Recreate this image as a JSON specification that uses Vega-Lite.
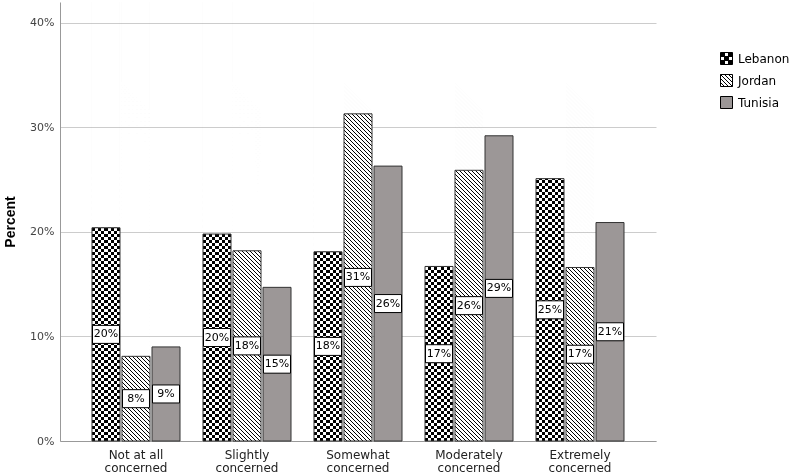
{
  "$schema": "https://vega.github.io/schema/vega-lite/v6.json",
  "width": 596,
  "height": 439,
  "autosize": {"type": "none"},
  "padding": {"left": 60, "top": 2, "right": 134, "bottom": 34},
  "background": "white",
  "params": [
    {"name": "hgrad", "value": {"gradient": "linear", "x1": 0, "y1": 1, "x2": 0, "y2": 0.316629, "stops": [
        {"offset":0,"color":"#000"},{"offset":0.01,"color":"#000"},{"offset":0.01,"color":"#fff"},{"offset":0.02,"color":"#fff"},
        {"offset":0.02,"color":"#000"},{"offset":0.03,"color":"#000"},{"offset":0.03,"color":"#fff"},{"offset":0.04,"color":"#fff"},
        {"offset":0.04,"color":"#000"},{"offset":0.05,"color":"#000"},{"offset":0.05,"color":"#fff"},{"offset":0.06,"color":"#fff"},
        {"offset":0.06,"color":"#000"},{"offset":0.07,"color":"#000"},{"offset":0.07,"color":"#fff"},{"offset":0.08,"color":"#fff"},
        {"offset":0.08,"color":"#000"},{"offset":0.09,"color":"#000"},{"offset":0.09,"color":"#fff"},{"offset":0.1,"color":"#fff"},
        {"offset":0.1,"color":"#000"},{"offset":0.11,"color":"#000"},{"offset":0.11,"color":"#fff"},{"offset":0.12,"color":"#fff"},
        {"offset":0.12,"color":"#000"},{"offset":0.13,"color":"#000"},{"offset":0.13,"color":"#fff"},{"offset":0.14,"color":"#fff"},
        {"offset":0.14,"color":"#000"},{"offset":0.15,"color":"#000"},{"offset":0.15,"color":"#fff"},{"offset":0.16,"color":"#fff"},
        {"offset":0.16,"color":"#000"},{"offset":0.17,"color":"#000"},{"offset":0.17,"color":"#fff"},{"offset":0.18,"color":"#fff"},
        {"offset":0.18,"color":"#000"},{"offset":0.19,"color":"#000"},{"offset":0.19,"color":"#fff"},{"offset":0.2,"color":"#fff"},
        {"offset":0.2,"color":"#000"},{"offset":0.21,"color":"#000"},{"offset":0.21,"color":"#fff"},{"offset":0.22,"color":"#fff"},
        {"offset":0.22,"color":"#000"},{"offset":0.23,"color":"#000"},{"offset":0.23,"color":"#fff"},{"offset":0.24,"color":"#fff"},
        {"offset":0.24,"color":"#000"},{"offset":0.25,"color":"#000"},{"offset":0.25,"color":"#fff"},{"offset":0.26,"color":"#fff"},
        {"offset":0.26,"color":"#000"},{"offset":0.27,"color":"#000"},{"offset":0.27,"color":"#fff"},{"offset":0.28,"color":"#fff"},
        {"offset":0.28,"color":"#000"},{"offset":0.29,"color":"#000"},{"offset":0.29,"color":"#fff"},{"offset":0.3,"color":"#fff"},
        {"offset":0.3,"color":"#000"},{"offset":0.31,"color":"#000"},{"offset":0.31,"color":"#fff"},{"offset":0.32,"color":"#fff"},
        {"offset":0.32,"color":"#000"},{"offset":0.33,"color":"#000"},{"offset":0.33,"color":"#fff"},{"offset":0.34,"color":"#fff"},
        {"offset":0.34,"color":"#000"},{"offset":0.35,"color":"#000"},{"offset":0.35,"color":"#fff"},{"offset":0.36,"color":"#fff"},
        {"offset":0.36,"color":"#000"},{"offset":0.37,"color":"#000"},{"offset":0.37,"color":"#fff"},{"offset":0.38,"color":"#fff"},
        {"offset":0.38,"color":"#000"},{"offset":0.39,"color":"#000"},{"offset":0.39,"color":"#fff"},{"offset":0.4,"color":"#fff"},
        {"offset":0.4,"color":"#000"},{"offset":0.41,"color":"#000"},{"offset":0.41,"color":"#fff"},{"offset":0.42,"color":"#fff"},
        {"offset":0.42,"color":"#000"},{"offset":0.43,"color":"#000"},{"offset":0.43,"color":"#fff"},{"offset":0.44,"color":"#fff"},
        {"offset":0.44,"color":"#000"},{"offset":0.45,"color":"#000"},{"offset":0.45,"color":"#fff"},{"offset":0.46,"color":"#fff"},
        {"offset":0.46,"color":"#000"},{"offset":0.47,"color":"#000"},{"offset":0.47,"color":"#fff"},{"offset":0.48,"color":"#fff"},
        {"offset":0.48,"color":"#000"},{"offset":0.49,"color":"#000"},{"offset":0.49,"color":"#fff"},{"offset":0.5,"color":"#fff"},
        {"offset":0.5,"color":"#000"},{"offset":0.51,"color":"#000"},{"offset":0.51,"color":"#fff"},{"offset":0.52,"color":"#fff"},
        {"offset":0.52,"color":"#000"},{"offset":0.53,"color":"#000"},{"offset":0.53,"color":"#fff"},{"offset":0.54,"color":"#fff"},
        {"offset":0.54,"color":"#000"},{"offset":0.55,"color":"#000"},{"offset":0.55,"color":"#fff"},{"offset":0.56,"color":"#fff"},
        {"offset":0.56,"color":"#000"},{"offset":0.57,"color":"#000"},{"offset":0.57,"color":"#fff"},{"offset":0.58,"color":"#fff"},
        {"offset":0.58,"color":"#000"},{"offset":0.59,"color":"#000"},{"offset":0.59,"color":"#fff"},{"offset":0.6,"color":"#fff"},
        {"offset":0.6,"color":"#000"},{"offset":0.61,"color":"#000"},{"offset":0.61,"color":"#fff"},{"offset":0.62,"color":"#fff"},
        {"offset":0.62,"color":"#000"},{"offset":0.63,"color":"#000"},{"offset":0.63,"color":"#fff"},{"offset":0.64,"color":"#fff"},
        {"offset":0.64,"color":"#000"},{"offset":0.65,"color":"#000"},{"offset":0.65,"color":"#fff"},{"offset":0.66,"color":"#fff"},
        {"offset":0.66,"color":"#000"},{"offset":0.67,"color":"#000"},{"offset":0.67,"color":"#fff"},{"offset":0.68,"color":"#fff"},
        {"offset":0.68,"color":"#000"},{"offset":0.69,"color":"#000"},{"offset":0.69,"color":"#fff"},{"offset":0.7,"color":"#fff"},
        {"offset":0.7,"color":"#000"},{"offset":0.71,"color":"#000"},{"offset":0.71,"color":"#fff"},{"offset":0.72,"color":"#fff"},
        {"offset":0.72,"color":"#000"},{"offset":0.73,"color":"#000"},{"offset":0.73,"color":"#fff"},{"offset":0.74,"color":"#fff"},
        {"offset":0.74,"color":"#000"},{"offset":0.75,"color":"#000"},{"offset":0.75,"color":"#fff"},{"offset":0.76,"color":"#fff"},
        {"offset":0.76,"color":"#000"},{"offset":0.77,"color":"#000"},{"offset":0.77,"color":"#fff"},{"offset":0.78,"color":"#fff"},
        {"offset":0.78,"color":"#000"},{"offset":0.79,"color":"#000"},{"offset":0.79,"color":"#fff"},{"offset":0.8,"color":"#fff"},
        {"offset":0.8,"color":"#000"},{"offset":0.81,"color":"#000"},{"offset":0.81,"color":"#fff"},{"offset":0.82,"color":"#fff"},
        {"offset":0.82,"color":"#000"},{"offset":0.83,"color":"#000"},{"offset":0.83,"color":"#fff"},{"offset":0.84,"color":"#fff"},
        {"offset":0.84,"color":"#000"},{"offset":0.85,"color":"#000"},{"offset":0.85,"color":"#fff"},{"offset":0.86,"color":"#fff"},
        {"offset":0.86,"color":"#000"},{"offset":0.87,"color":"#000"},{"offset":0.87,"color":"#fff"},{"offset":0.88,"color":"#fff"},
        {"offset":0.88,"color":"#000"},{"offset":0.89,"color":"#000"},{"offset":0.89,"color":"#fff"},{"offset":0.9,"color":"#fff"}]}},
    {"name": "dgrad", "value": {"gradient": "linear", "x1": 0, "y1": 1, "x2": 0.057879, "y2": 0.092537, "stops": [
        {"offset":0,"color":"#000"},{"offset":0.005,"color":"#000"},{"offset":0.0075,"color":"#fff"},
        {"offset":0.01,"color":"#000"},{"offset":0.015,"color":"#000"},{"offset":0.0175,"color":"#fff"},
        {"offset":0.02,"color":"#000"},{"offset":0.025,"color":"#000"},{"offset":0.0275,"color":"#fff"},
        {"offset":0.03,"color":"#000"},{"offset":0.035,"color":"#000"},{"offset":0.0375,"color":"#fff"},
        {"offset":0.04,"color":"#000"},{"offset":0.045,"color":"#000"},{"offset":0.0475,"color":"#fff"},
        {"offset":0.05,"color":"#000"},{"offset":0.055,"color":"#000"},{"offset":0.0575,"color":"#fff"},
        {"offset":0.06,"color":"#000"},{"offset":0.065,"color":"#000"},{"offset":0.0675,"color":"#fff"},
        {"offset":0.07,"color":"#000"},{"offset":0.075,"color":"#000"},{"offset":0.0775,"color":"#fff"},
        {"offset":0.08,"color":"#000"},{"offset":0.085,"color":"#000"},{"offset":0.0875,"color":"#fff"},
        {"offset":0.09,"color":"#000"},{"offset":0.095,"color":"#000"},{"offset":0.0975,"color":"#fff"},
        {"offset":0.1,"color":"#000"},{"offset":0.105,"color":"#000"},{"offset":0.1075,"color":"#fff"},
        {"offset":0.11,"color":"#000"},{"offset":0.115,"color":"#000"},{"offset":0.1175,"color":"#fff"},
        {"offset":0.12,"color":"#000"},{"offset":0.125,"color":"#000"},{"offset":0.1275,"color":"#fff"},
        {"offset":0.13,"color":"#000"},{"offset":0.135,"color":"#000"},{"offset":0.1375,"color":"#fff"},
        {"offset":0.14,"color":"#000"},{"offset":0.145,"color":"#000"},{"offset":0.1475,"color":"#fff"},
        {"offset":0.15,"color":"#000"},{"offset":0.155,"color":"#000"},{"offset":0.1575,"color":"#fff"},
        {"offset":0.16,"color":"#000"},{"offset":0.165,"color":"#000"},{"offset":0.1675,"color":"#fff"},
        {"offset":0.17,"color":"#000"},{"offset":0.175,"color":"#000"},{"offset":0.1775,"color":"#fff"},
        {"offset":0.18,"color":"#000"},{"offset":0.185,"color":"#000"},{"offset":0.1875,"color":"#fff"},
        {"offset":0.19,"color":"#000"},{"offset":0.195,"color":"#000"},{"offset":0.1975,"color":"#fff"},
        {"offset":0.2,"color":"#000"},{"offset":0.205,"color":"#000"},{"offset":0.2075,"color":"#fff"},
        {"offset":0.21,"color":"#000"},{"offset":0.215,"color":"#000"},{"offset":0.2175,"color":"#fff"},
        {"offset":0.22,"color":"#000"},{"offset":0.225,"color":"#000"},{"offset":0.2275,"color":"#fff"},
        {"offset":0.23,"color":"#000"},{"offset":0.235,"color":"#000"},{"offset":0.2375,"color":"#fff"},
        {"offset":0.24,"color":"#000"},{"offset":0.245,"color":"#000"},{"offset":0.2475,"color":"#fff"},
        {"offset":0.25,"color":"#000"},{"offset":0.255,"color":"#000"},{"offset":0.2575,"color":"#fff"},
        {"offset":0.26,"color":"#000"},{"offset":0.265,"color":"#000"},{"offset":0.2675,"color":"#fff"},
        {"offset":0.27,"color":"#000"},{"offset":0.275,"color":"#000"},{"offset":0.2775,"color":"#fff"},
        {"offset":0.28,"color":"#000"},{"offset":0.285,"color":"#000"},{"offset":0.2875,"color":"#fff"},
        {"offset":0.29,"color":"#000"},{"offset":0.295,"color":"#000"},{"offset":0.2975,"color":"#fff"},
        {"offset":0.3,"color":"#000"},{"offset":0.305,"color":"#000"},{"offset":0.3075,"color":"#fff"},
        {"offset":0.31,"color":"#000"},{"offset":0.315,"color":"#000"},{"offset":0.3175,"color":"#fff"},
        {"offset":0.32,"color":"#000"},{"offset":0.325,"color":"#000"},{"offset":0.3275,"color":"#fff"},
        {"offset":0.33,"color":"#000"},{"offset":0.335,"color":"#000"},{"offset":0.3375,"color":"#fff"},
        {"offset":0.34,"color":"#000"},{"offset":0.345,"color":"#000"},{"offset":0.3475,"color":"#fff"},
        {"offset":0.35,"color":"#000"},{"offset":0.355,"color":"#000"},{"offset":0.3575,"color":"#fff"},
        {"offset":0.36,"color":"#000"},{"offset":0.365,"color":"#000"},{"offset":0.3675,"color":"#fff"},
        {"offset":0.37,"color":"#000"},{"offset":0.375,"color":"#000"},{"offset":0.3775,"color":"#fff"},
        {"offset":0.38,"color":"#000"},{"offset":0.385,"color":"#000"},{"offset":0.3875,"color":"#fff"},
        {"offset":0.39,"color":"#000"},{"offset":0.395,"color":"#000"},{"offset":0.3975,"color":"#fff"},
        {"offset":0.4,"color":"#000"},{"offset":0.405,"color":"#000"},{"offset":0.4075,"color":"#fff"},
        {"offset":0.41,"color":"#000"},{"offset":0.415,"color":"#000"},{"offset":0.4175,"color":"#fff"},
        {"offset":0.42,"color":"#000"},{"offset":0.425,"color":"#000"},{"offset":0.4275,"color":"#fff"},
        {"offset":0.43,"color":"#000"},{"offset":0.435,"color":"#000"},{"offset":0.4375,"color":"#fff"},
        {"offset":0.44,"color":"#000"},{"offset":0.445,"color":"#000"},{"offset":0.4475,"color":"#fff"},
        {"offset":0.45,"color":"#000"},{"offset":0.455,"color":"#000"},{"offset":0.4575,"color":"#fff"},
        {"offset":0.46,"color":"#000"},{"offset":0.465,"color":"#000"},{"offset":0.4675,"color":"#fff"},
        {"offset":0.47,"color":"#000"},{"offset":0.475,"color":"#000"},{"offset":0.4775,"color":"#fff"},
        {"offset":0.48,"color":"#000"},{"offset":0.485,"color":"#000"},{"offset":0.4875,"color":"#fff"},
        {"offset":0.49,"color":"#000"},{"offset":0.495,"color":"#000"},{"offset":0.4975,"color":"#fff"},
        {"offset":0.5,"color":"#000"},{"offset":0.505,"color":"#000"},{"offset":0.5075,"color":"#fff"},
        {"offset":0.51,"color":"#000"},{"offset":0.515,"color":"#000"},{"offset":0.5175,"color":"#fff"},
        {"offset":0.52,"color":"#000"},{"offset":0.525,"color":"#000"},{"offset":0.5275,"color":"#fff"},
        {"offset":0.53,"color":"#000"},{"offset":0.535,"color":"#000"},{"offset":0.5375,"color":"#fff"},
        {"offset":0.54,"color":"#000"},{"offset":0.545,"color":"#000"},{"offset":0.5475,"color":"#fff"},
        {"offset":0.55,"color":"#000"},{"offset":0.555,"color":"#000"},{"offset":0.5575,"color":"#fff"},
        {"offset":0.56,"color":"#000"},{"offset":0.565,"color":"#000"},{"offset":0.5675,"color":"#fff"},
        {"offset":0.57,"color":"#000"},{"offset":0.575,"color":"#000"},{"offset":0.5775,"color":"#fff"},
        {"offset":0.58,"color":"#000"},{"offset":0.585,"color":"#000"},{"offset":0.5875,"color":"#fff"},
        {"offset":0.59,"color":"#000"},{"offset":0.595,"color":"#000"},{"offset":0.5975,"color":"#fff"},
        {"offset":0.6,"color":"#000"},{"offset":0.605,"color":"#000"},{"offset":0.6075,"color":"#fff"},
        {"offset":0.61,"color":"#000"},{"offset":0.615,"color":"#000"},{"offset":0.6175,"color":"#fff"},
        {"offset":0.62,"color":"#000"},{"offset":0.625,"color":"#000"},{"offset":0.6275,"color":"#fff"},
        {"offset":0.63,"color":"#000"},{"offset":0.635,"color":"#000"},{"offset":0.6375,"color":"#fff"},
        {"offset":0.64,"color":"#000"},{"offset":0.645,"color":"#000"},{"offset":0.6475,"color":"#fff"},
        {"offset":0.65,"color":"#000"},{"offset":0.655,"color":"#000"},{"offset":0.6575,"color":"#fff"},
        {"offset":0.66,"color":"#000"},{"offset":0.665,"color":"#000"},{"offset":0.6675,"color":"#fff"},
        {"offset":0.67,"color":"#000"},{"offset":0.675,"color":"#000"},{"offset":0.6775,"color":"#fff"},
        {"offset":0.68,"color":"#000"},{"offset":0.685,"color":"#000"},{"offset":0.6875,"color":"#fff"},
        {"offset":0.69,"color":"#000"},{"offset":0.695,"color":"#000"},{"offset":0.6975,"color":"#fff"},
        {"offset":0.7,"color":"#000"},{"offset":0.705,"color":"#000"},{"offset":0.7075,"color":"#fff"},
        {"offset":0.71,"color":"#000"},{"offset":0.715,"color":"#000"},{"offset":0.7175,"color":"#fff"},
        {"offset":0.72,"color":"#000"},{"offset":0.725,"color":"#000"},{"offset":0.7275,"color":"#fff"},
        {"offset":0.73,"color":"#000"},{"offset":0.735,"color":"#000"},{"offset":0.7375,"color":"#fff"},
        {"offset":0.74,"color":"#000"},{"offset":0.745,"color":"#000"},{"offset":0.7475,"color":"#fff"},
        {"offset":0.75,"color":"#000"},{"offset":0.755,"color":"#000"},{"offset":0.7575,"color":"#fff"},
        {"offset":0.76,"color":"#000"},{"offset":0.765,"color":"#000"},{"offset":0.7675,"color":"#fff"},
        {"offset":0.77,"color":"#000"},{"offset":0.775,"color":"#000"},{"offset":0.7775,"color":"#fff"},
        {"offset":0.78,"color":"#000"},{"offset":0.785,"color":"#000"},{"offset":0.7875,"color":"#fff"},
        {"offset":0.79,"color":"#000"},{"offset":0.795,"color":"#000"},{"offset":0.7975,"color":"#fff"},
        {"offset":0.8,"color":"#000"},{"offset":0.805,"color":"#000"},{"offset":0.8075,"color":"#fff"},
        {"offset":0.81,"color":"#000"},{"offset":0.815,"color":"#000"},{"offset":0.8175,"color":"#fff"},
        {"offset":0.82,"color":"#000"},{"offset":0.825,"color":"#000"},{"offset":0.8275,"color":"#fff"},
        {"offset":0.83,"color":"#000"},{"offset":0.835,"color":"#000"},{"offset":0.8375,"color":"#fff"},
        {"offset":0.84,"color":"#000"},{"offset":0.845,"color":"#000"},{"offset":0.8475,"color":"#fff"},
        {"offset":0.85,"color":"#000"},{"offset":0.855,"color":"#000"},{"offset":0.8575,"color":"#fff"},
        {"offset":0.86,"color":"#000"},{"offset":0.865,"color":"#000"},{"offset":0.8675,"color":"#fff"},
        {"offset":0.87,"color":"#000"},{"offset":0.875,"color":"#000"},{"offset":0.8775,"color":"#fff"},
        {"offset":0.88,"color":"#000"},{"offset":0.885,"color":"#000"},{"offset":0.8875,"color":"#fff"},
        {"offset":0.89,"color":"#000"},{"offset":0.895,"color":"#000"},{"offset":0.8975,"color":"#fff"}]}}
  ],
  "data": {"values": [
    {"cat": "Not at all concerned", "country": "Lebanon", "pct": 0.204},
    {"cat": "Not at all concerned", "country": "Jordan", "pct": 0.081},
    {"cat": "Not at all concerned", "country": "Tunisia", "pct": 0.090},
    {"cat": "Slightly concerned", "country": "Lebanon", "pct": 0.198},
    {"cat": "Slightly concerned", "country": "Jordan", "pct": 0.182},
    {"cat": "Slightly concerned", "country": "Tunisia", "pct": 0.147},
    {"cat": "Somewhat concerned", "country": "Lebanon", "pct": 0.181},
    {"cat": "Somewhat concerned", "country": "Jordan", "pct": 0.313},
    {"cat": "Somewhat concerned", "country": "Tunisia", "pct": 0.263},
    {"cat": "Moderately concerned", "country": "Lebanon", "pct": 0.167},
    {"cat": "Moderately concerned", "country": "Jordan", "pct": 0.259},
    {"cat": "Moderately concerned", "country": "Tunisia", "pct": 0.292},
    {"cat": "Extremely concerned", "country": "Lebanon", "pct": 0.251},
    {"cat": "Extremely concerned", "country": "Jordan", "pct": 0.166},
    {"cat": "Extremely concerned", "country": "Tunisia", "pct": 0.209}
  ]},
  "encoding": {
    "x": {"field": "cat", "type": "nominal", "sort": null,
      "scale": {"paddingInner": 0.207207, "paddingOuter": 0.288288},
      "axis": {"title": null, "ticks": false, "labelAngle": 0, "labelFont": "DejaVu Sans", "labelFontSize": 12, "labelColor": "#222", "labelPadding": 8, "labelLineHeight": 13.5, "domainColor": "#999", "grid": false,
        "labelExpr": "[replace(datum.label, ' concerned', ''), 'concerned']"}},
    "xOffset": {"field": "country", "type": "nominal", "sort": ["Lebanon", "Jordan", "Tunisia"], "scale": {"paddingInner": 0.0666667, "paddingOuter": 0}}
  },
  "layer": [
    {
      "mark": {"type": "bar", "strokeWidth": 0},
      "encoding": {
        "y": {"field": "pct", "type": "quantitative", "title": "Percent",
          "scale": {"domain": [0, 0.42], "nice": false, "zero": true},
          "axis": {"values": [0, 0.1, 0.2, 0.3, 0.4], "format": ".0%", "ticks": false, "labelPadding": 6, "labelFont": "DejaVu Sans", "labelFontSize": 11, "labelColor": "#444", "titleFont": "Liberation Sans", "titleFontSize": 14, "titleFontWeight": "bold", "titleColor": "#000", "titlePadding": 12, "domainColor": "#999", "grid": true, "gridColor": "#cccccc"}},
        "fill": {"field": "country", "type": "nominal",
          "scale": {"domain": ["Lebanon", "Jordan", "Tunisia"], "range": ["#000000", "#ffffff", "#9c9797"]},
          "legend": {"orient": "none", "legendX": 660, "legendY": 50, "title": null, "symbolType": "square", "symbolSize": 144, "symbolStrokeColor": "#000", "symbolStrokeWidth": 1, "labelFont": "DejaVu Sans", "labelFontSize": 12, "labelColor": "#000", "labelOffset": 5, "rowPadding": 5, "padding": 0,
            "encode": {"symbols": {"update": {"shape": {"signal": "datum.value === 'Lebanon' ? 'M-1,-1H1V1H-1Z M-0.333,-1V-0.333H0.333V-1Z M-1,-0.333V0.333H-0.333V-0.333Z M0.333,-0.333V0.333H1V-0.333Z M-0.333,0.333V1H0.333V0.333Z' : datum.value === 'Jordan' ? 'M-1,-1H1V1H-1Z M-1,-1L1,1 M-0.333,-1L1,0.333 M-1,-0.333L0.333,1 M0.333,-1L1,-0.333 M-1,0.333L-0.333,1' : 'square'"}}}}}}
      }
    },
    {
      "transform": [{"filter": "datum.country == 'Lebanon'"}],
      "mark": {"type": "bar", "fill": {"expr": "hgrad"}, "blend": "difference", "strokeWidth": 0},
      "encoding": {"y": {"datum": 0.42, "type": "quantitative", "title": "Percent"}, "y2": {"datum": 0}}
    },
    {
      "transform": [{"filter": "datum.country == 'Lebanon'"}],
      "mark": {"type": "bar", "strokeWidth": 0, "fill": {"gradient": "linear", "x1": 0, "y1": 0, "x2": 1, "y2": 0, "stops": [
        {"offset": 0, "color": "#000"}, {"offset": 0.1111, "color": "#000"}, {"offset": 0.1111, "color": "#fff"}, {"offset": 0.2222, "color": "#fff"},
        {"offset": 0.2222, "color": "#000"}, {"offset": 0.3333, "color": "#000"}, {"offset": 0.3333, "color": "#fff"}, {"offset": 0.4444, "color": "#fff"},
        {"offset": 0.4444, "color": "#000"}, {"offset": 0.5556, "color": "#000"}, {"offset": 0.5556, "color": "#fff"}, {"offset": 0.6667, "color": "#fff"},
        {"offset": 0.6667, "color": "#000"}, {"offset": 0.7778, "color": "#000"}, {"offset": 0.7778, "color": "#fff"}, {"offset": 0.8889, "color": "#fff"},
        {"offset": 0.8889, "color": "#000"}, {"offset": 1, "color": "#000"}]}},
      "encoding": {"y": {"field": "pct", "type": "quantitative", "title": "Percent"}}
    },
    {
      "transform": [{"filter": "datum.country == 'Lebanon'"}],
      "mark": {"type": "bar", "fill": {"expr": "hgrad"}, "blend": "difference", "strokeWidth": 0},
      "encoding": {"y": {"datum": 0.42, "type": "quantitative", "title": "Percent"}, "y2": {"datum": 0}}
    },
    {
      "transform": [{"filter": "datum.country == 'Jordan'"}],
      "mark": {"type": "bar", "fill": {"expr": "dgrad"}, "blend": "difference", "strokeWidth": 0},
      "encoding": {"y": {"datum": 0.42, "type": "quantitative", "title": "Percent"}, "y2": {"datum": 0}}
    },
    {
      "transform": [{"filter": "datum.country == 'Jordan'"}],
      "mark": {"type": "bar", "strokeWidth": 0, "fill": "#ffffff"},
      "encoding": {"y": {"field": "pct", "type": "quantitative", "title": "Percent"}}
    },
    {
      "transform": [{"filter": "datum.country == 'Jordan'"}],
      "mark": {"type": "bar", "fill": {"expr": "dgrad"}, "blend": "difference", "strokeWidth": 0},
      "encoding": {"y": {"datum": 0.42, "type": "quantitative", "title": "Percent"}, "y2": {"datum": 0}}
    },
    {
      "mark": {"type": "bar", "fill": "transparent", "stroke": "#333333", "strokeWidth": 1},
      "encoding": {"y": {"field": "pct", "type": "quantitative", "title": "Percent"}}
    },
    {
      "transform": [{"calculate": "datum.pct / 2", "as": "mid"}],
      "mark": {"type": "point", "shape": "M-1,-0.667H1V0.667H-1Z", "size": 729, "filled": true, "fill": "#ffffff", "stroke": "#000000", "strokeWidth": 1, "opacity": 1},
      "encoding": {"y": {"field": "mid", "type": "quantitative", "title": "Percent"}}
    },
    {
      "transform": [{"calculate": "datum.pct / 2", "as": "mid"}],
      "mark": {"type": "text", "font": "DejaVu Sans", "fontSize": 11, "color": "#000000", "align": "center", "baseline": "middle"},
      "encoding": {"y": {"field": "mid", "type": "quantitative", "title": "Percent"}, "text": {"field": "pct", "type": "quantitative", "format": ".0%"}}
    }
  ],
  "config": {
    "font": "DejaVu Sans",
    "view": {"stroke": null, "fill": "white"}
  }
}
